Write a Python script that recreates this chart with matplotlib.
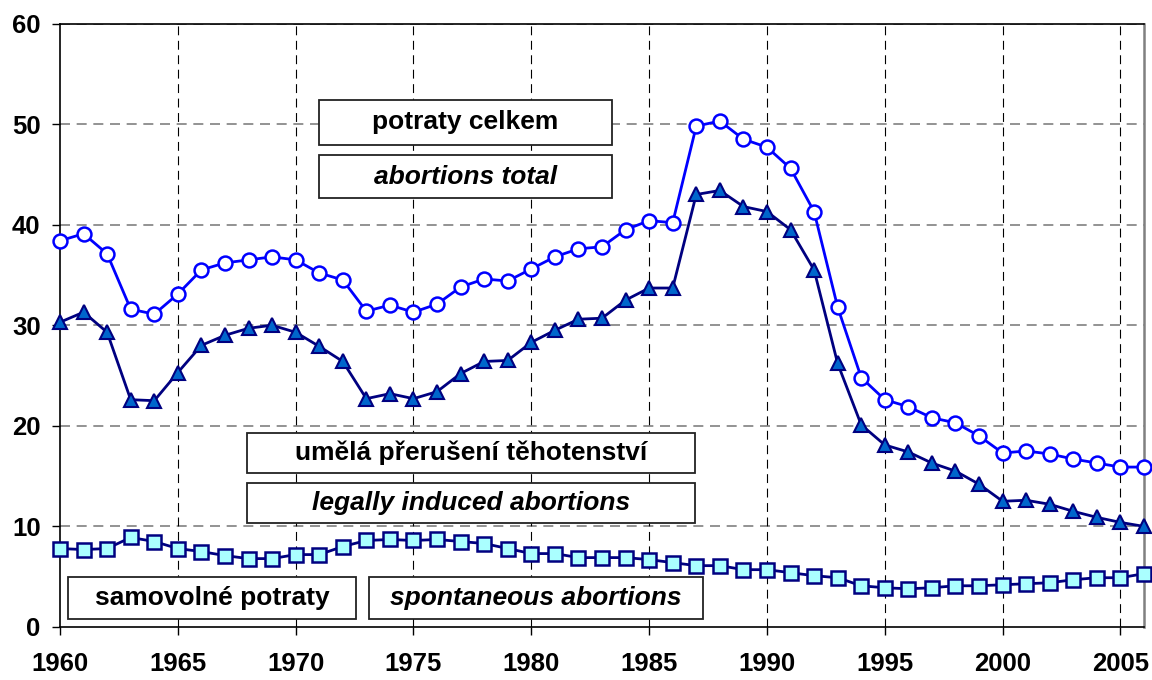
import matplotlib
matplotlib.use("Agg")
import matplotlib.pyplot as plt
from matplotlib.patches import Rectangle
import numpy as np

plt.rcParams['font.family'] = ['Liberation Sans', 'DejaVu Sans']

years = list(range(1960, 2007))

total = [38.4, 39.1, 37.1, 31.6, 31.1, 33.1, 35.5, 36.2, 36.5, 36.8,
         36.5, 35.2, 34.5, 31.4, 32.0, 31.3, 32.1, 33.8, 34.6, 34.4,
         35.6, 36.8, 37.6, 37.8, 39.5, 40.4, 40.2, 49.8, 50.3, 48.5,
         47.7, 45.6, 41.3, 31.8, 24.8, 22.6, 21.9, 20.8, 20.3, 19.0,
         17.3, 17.5, 17.2, 16.7, 16.3, 15.9, 15.9]

induced = [30.3, 31.3, 29.3, 22.6, 22.5, 25.3, 28.0, 29.0, 29.7, 30.0,
           29.3, 27.9, 26.4, 22.7, 23.2, 22.7, 23.4, 25.2, 26.4, 26.5,
           28.3, 29.5, 30.6, 30.7, 32.5, 33.7, 33.7, 43.0, 43.4, 41.8,
           41.3, 39.5, 35.5, 26.2, 20.1, 18.1, 17.4, 16.3, 15.5, 14.2,
           12.5, 12.6, 12.2, 11.5, 10.9, 10.4, 10.0]

spontaneous = [7.8, 7.7, 7.8, 8.9, 8.5, 7.8, 7.5, 7.1, 6.8, 6.8,
               7.2, 7.2, 8.0, 8.6, 8.7, 8.6, 8.7, 8.5, 8.3, 7.8,
               7.3, 7.3, 6.9, 6.9, 6.9, 6.7, 6.4, 6.1, 6.1, 5.7,
               5.7, 5.4, 5.1, 4.9, 4.1, 3.9, 3.8, 3.9, 4.1, 4.1,
               4.2, 4.3, 4.4, 4.7, 4.9, 4.9, 5.3]

x_ticks = [1960, 1965, 1970, 1975, 1980, 1985, 1990, 1995, 2000, 2005]
y_ticks = [0, 10, 20, 30, 40, 50, 60]

labels = ["potraty celkem", "abortions total",
          "umělá přerušení těhotenství", "legally induced abortions",
          "samovolné potraty", "spontaneous abortions"]

W, H = 1152, 680
fig = plt.figure(figsize=(W / 100, H / 100), dpi=100)
L, R, T, B = 60, 1144, 23.5, 627
ax = fig.add_axes([L / W, (H - B) / H, (R - L) / W, (B - T) / H])

ax.set_xlim(1960, 2006)
ax.set_ylim(0, 60)

# grid
for yv in y_ticks[1:]:
    ax.axhline(yv, color='#808080', lw=1.2, ls=(0, (6, 4)), zorder=1)
for xv in x_ticks[1:]:
    ax.axvline(xv, color='black', lw=0.8, ls=(0, (8, 5)), zorder=1)

# text boxes (pixel layout)
box_specs = [
    (319, 612, 100, 145, 'normal'),
    (319, 612, 155, 198, 'italic'),
    (247, 695, 433, 473, 'normal'),
    (247, 695, 483, 523, 'italic'),
    (68, 356, 577, 619, 'normal'),
    (369, 703, 577, 619, 'italic'),
]
for text, (x0, x1, y0, y1, style) in zip(labels, box_specs):
    rect = Rectangle((x0 / W, 1 - y1 / H), (x1 - x0) / W, (y1 - y0) / H,
                     transform=fig.transFigure, facecolor='white',
                     edgecolor='#222222', lw=1.3, zorder=3)
    ax.add_patch(rect)
    ax.text((x0 + x1) / 2 / W, 1 - (y0 + y1) / 2 / H, text,
            transform=fig.transFigure, ha='center', va='center',
            fontsize=19, fontweight='bold', style=style, zorder=4)

ax.plot(years, total, color='#0000FF', lw=2.0, marker='o', ms=10,
        mfc='white', mec='#0000FF', mew=1.8, zorder=5, clip_on=False)
ax.plot(years, induced, color='#000080', lw=2.0, marker='^', ms=10.5,
        mfc='#0066CC', mec='#000080', mew=1.5, zorder=6, clip_on=False)
ax.plot(years, spontaneous, color='#000080', lw=2.0, marker='s', ms=9.5,
        mfc='#AAFFFF', mec='#000080', mew=1.8, zorder=6, clip_on=False)

ax.set_xticks(x_ticks)
ax.set_yticks(y_ticks)
ax.tick_params(axis='both', direction='out', length=6, width=1, color='black',
               labelsize=18.5)
ax.tick_params(axis='y', pad=8)
ax.tick_params(axis='x', pad=12)
for lab in ax.get_xticklabels() + ax.get_yticklabels():
    lab.set_fontweight('bold')

for s in ['left', 'bottom', 'top']:
    ax.spines[s].set_color('black')
    ax.spines[s].set_linewidth(1.2)
ax.spines['right'].set_color('#808080')
ax.spines['right'].set_linewidth(1.8)

fig.savefig('out.png', dpi=100)
